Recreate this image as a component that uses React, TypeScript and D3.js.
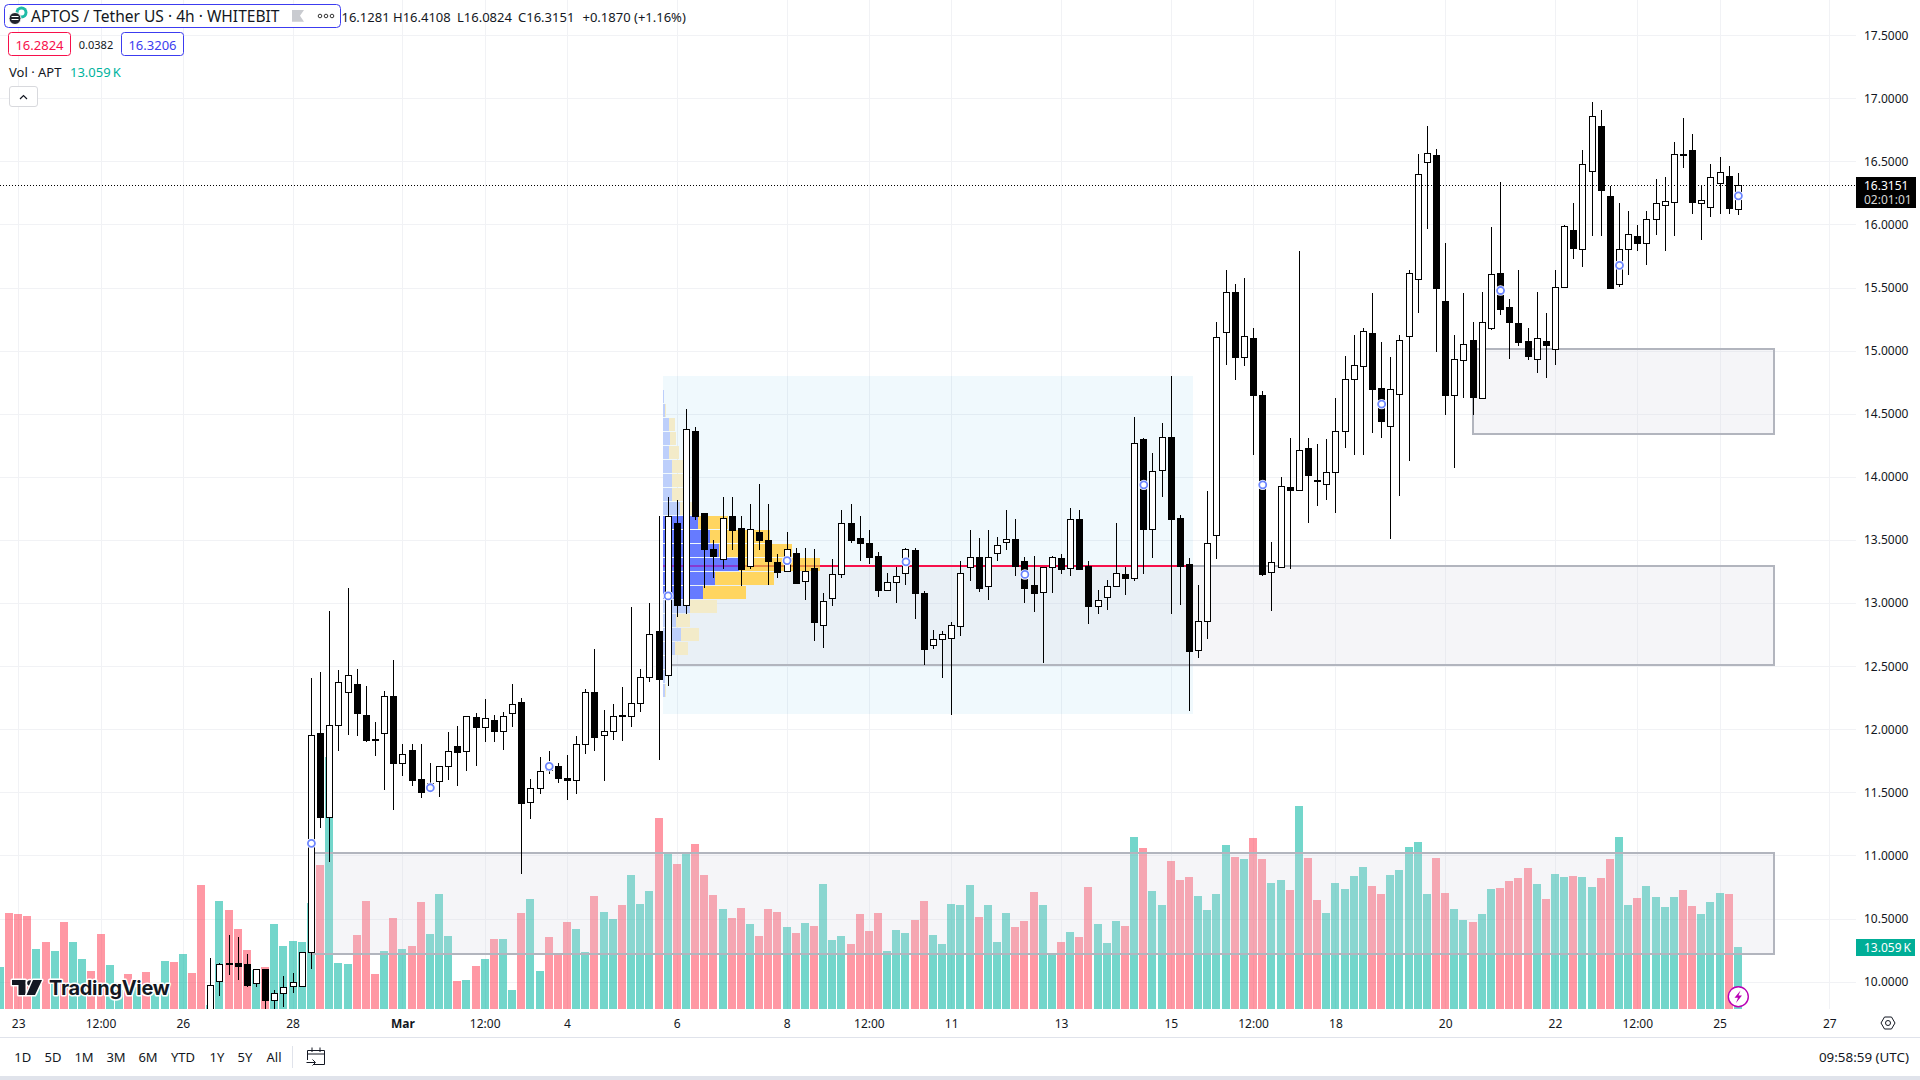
import React from "react";
import * as d3 from "d3";

const FONT = "'Noto Sans', sans-serif";
const INK = "#131722";

// Bar index runs from -2 to 188; index 0 is the "23" tick. One bar = 4h.
const firstVolumeIndex = -2;
const volumes = [
  8.9,20.2,20.0,19.6,12.6,14.1,12.2,18.3,14.1,10.5,8.0,15.8,9.3,4.0,7.4,4.7,7.8,4.7,10.1,9.9,11.6,7.6,26.1,
  0.8,22.7,20.8,16.8,12.4,8.2,8.8,17.9,13.3,14.3,
  14.1,22.3,30.3,53.1,9.7,9.5,15.6,22.7,7.4,12.2,
  19.2,12.6,13.3,22.5,15.8,24.2,15.4,5.9,6.1,9.1,
  10.5,14.7,14.7,4.0,20.2,23.2,8.0,15.2,11.6,18.3,
  16.8,12.0,23.8,20.4,19.0,21.9,28.2,22.1,24.9,40.2,
  32.6,30.5,32.6,34.7,28.2,24.0,21.1,19.2,21.3,17.9,
  15.4,21.1,20.4,17.3,16.0,18.1,17.5,26.3,14.5,15.4,
  13.7,20.0,16.4,20.2,12.2,16.6,16.0,18.7,22.7,15.6,
  13.7,22.1,21.9,26.1,19.4,21.9,14.1,20.2,17.3,18.5,
  24.6,21.9,11.6,14.1,16.2,15.2,25.7,17.9,13.9,18.5,
  17.5,36.2,33.9,24.9,21.9,31.2,27.2,27.8,23.8,20.8,
  24.2,34.5,32.0,31.6,36.0,31.6,26.5,27.2,25.1,42.8,
  31.8,23.0,20.2,26.5,25.3,28.0,29.9,25.9,24.2,28.2,
  29.3,34.1,35.2,24.2,31.8,24.4,21.1,18.7,18.3,20.0,
  25.3,25.5,27.0,27.6,29.7,26.3,23.2,28.4,27.8,28.0,
  27.8,25.7,27.6,31.6,36.2,21.9,23.4,25.9,23.6,21.5,
  23.6,25.1,21.7,20.0,22.5,24.4,24.2,13.059,
];
// direction of the bars that have no candle in view (index -2 to 20)
const earlyVolumeUp = [1,0,0,0,1,0,1,0,1,1,0,0,1,1,0,1,0,1,1,0,1,0,0];

const firstCandleIndex = 21;
const opens = [
  9.7,10.01,10.15,10.15,10.14,9.99,10.10,9.86,9.91,9.97,
  9.97,10.24,11.97,11.31,12.04,12.30,12.36,12.12,11.93,11.97,
  12.27,11.74,11.84,11.61,11.52,11.59,11.71,11.87,11.83,12.10,
  12.02,12.08,11.99,12.13,12.22,11.43,11.54,11.74,11.71,11.62,
  11.60,11.89,12.30,11.96,11.99,12.12,12.11,12.21,12.42,12.78,
  12.43,13.64,12.99,14.37,13.72,13.43,13.35,13.69,13.60,13.30,
  13.57,13.50,13.33,13.26,13.40,13.18,13.28,12.83,13.04,13.23,
  13.64,13.52,13.48,13.38,13.11,13.17,13.24,13.42,13.08,12.67,
  12.72,12.73,12.82,13.29,13.37,13.14,13.40,13.49,13.51,13.34,
  13.15,13.09,13.29,13.36,13.28,13.67,13.30,12.98,13.05,13.14,
  13.23,13.20,14.30,13.59,14.06,14.32,13.68,13.31,12.63,12.86,
  13.54,15.15,15.47,14.95,15.10,14.65,13.25,13.29,13.92,13.90,
  14.23,13.98,13.95,14.04,14.37,14.78,14.88,15.14,14.71,14.41,
  14.66,15.12,15.57,16.50,16.55,15.40,14.65,14.93,15.09,14.63,
  15.18,15.62,15.35,15.22,15.08,14.94,15.08,15.02,15.51,15.96,
  15.81,16.43,16.78,16.23,15.53,15.81,15.91,15.86,16.05,16.16,
  16.18,16.56,16.59,16.17,16.14,16.33,16.39,16.1281,
];
const highs = [
  10.19,10.15,10.37,10.36,10.22,10.10,10.10,9.94,10.05,10.07,
  10.24,12.41,12.46,12.94,12.47,13.12,12.48,12.35,12.06,12.31,
  12.55,11.89,11.89,11.89,11.74,11.71,11.98,12.03,12.11,12.13,
  12.24,12.12,12.14,12.36,12.25,11.61,11.78,11.83,11.74,11.80,
  11.95,12.32,12.64,12.16,12.20,12.34,12.97,12.48,13.00,13.69,
  13.84,13.82,14.54,14.40,13.72,13.50,13.84,13.84,13.69,13.79,
  13.95,13.79,13.39,13.57,13.44,13.44,13.43,13.08,13.35,13.74,
  13.79,13.69,13.58,13.41,13.24,13.29,13.44,13.44,13.10,12.79,
  12.78,12.85,13.34,13.58,13.52,13.58,13.53,13.74,13.67,13.37,
  13.38,13.29,13.38,13.39,13.76,13.74,13.34,13.11,13.19,13.64,
  13.29,14.48,14.31,14.19,14.43,14.80,13.70,13.36,13.15,13.89,
  15.23,15.64,15.53,15.58,15.18,14.68,13.49,14.00,14.31,15.79,
  14.31,14.26,14.30,14.63,14.96,15.13,15.18,15.46,15.07,14.95,
  15.13,15.64,16.56,16.78,16.60,15.86,15.13,15.46,15.23,15.47,
  15.98,16.34,15.41,15.64,15.18,15.47,15.30,15.64,16.00,16.17,
  16.59,16.97,16.91,16.31,16.17,16.11,16.00,16.11,16.36,16.38,
  16.66,16.85,16.72,16.32,16.48,16.54,16.47,16.4108,
];
const lows = [
  9.6,9.89,10.06,10.02,9.96,9.96,9.79,9.78,9.80,9.91,
  9.97,10.10,11.22,10.95,11.83,11.96,11.95,11.90,11.79,11.52,
  11.36,11.63,11.55,11.46,11.51,11.47,11.60,11.55,11.67,11.71,
  11.90,11.90,11.84,12.02,10.86,11.29,11.49,11.65,11.58,11.44,
  11.49,11.81,11.83,11.59,11.92,11.91,12.02,12.14,12.38,11.76,
  12.35,12.89,12.92,13.66,13.12,13.20,13.27,13.42,13.14,13.27,
  13.42,13.15,13.20,13.25,13.16,13.03,12.70,12.65,12.98,13.20,
  13.48,13.34,13.31,13.05,13.11,13.00,13.15,12.88,12.51,12.64,
  12.41,12.12,12.74,13.18,13.09,13.03,13.34,13.42,13.22,13.00,
  12.93,12.53,13.08,13.23,13.22,13.27,12.84,12.92,12.95,13.14,
  13.07,13.18,13.23,13.36,13.84,12.92,12.99,12.15,12.57,12.72,
  13.35,14.89,14.77,14.88,14.18,13.22,12.94,13.28,13.27,13.90,
  13.64,13.77,13.82,13.72,14.23,14.18,14.18,14.35,14.31,13.51,
  13.85,14.13,15.30,15.97,14.99,14.49,14.07,14.63,14.49,14.62,
  15.17,15.29,14.94,15.04,14.93,14.83,14.79,14.89,15.51,15.73,
  15.67,15.91,15.91,15.50,15.51,15.60,15.79,15.68,15.92,15.79,
  15.91,16.45,16.09,15.88,16.06,16.09,16.09,16.0824,
];
const closes = [
  9.98,10.14,10.14,10.13,9.98,10.10,9.86,9.91,9.96,10.00,
  10.24,11.96,11.31,12.04,12.38,12.43,12.13,11.92,11.92,12.27,
  11.74,11.81,11.60,11.51,11.58,11.71,11.83,11.82,12.11,12.02,
  12.09,11.99,12.11,12.20,11.42,11.54,11.67,11.68,11.62,11.60,
  11.89,12.30,11.94,11.99,12.11,12.11,12.21,12.42,12.76,12.40,
  13.69,12.99,14.38,13.69,13.43,13.38,13.68,13.58,13.27,13.59,
  13.50,13.34,13.25,13.43,13.16,13.26,12.85,13.02,13.23,13.64,
  13.50,13.48,13.37,13.11,13.17,13.22,13.43,13.08,12.64,12.72,
  12.76,12.83,13.24,13.37,13.12,13.37,13.46,13.51,13.30,13.12,
  13.08,13.29,13.37,13.27,13.67,13.27,12.98,13.03,13.14,13.24,
  13.20,14.27,13.59,14.05,14.32,13.67,13.30,12.62,12.86,13.48,
  15.11,15.47,14.95,15.12,14.65,13.23,13.33,13.93,13.90,14.22,
  14.02,13.97,14.04,14.37,14.78,14.89,15.16,14.70,14.45,14.70,
  15.09,15.62,16.40,16.57,15.50,14.65,14.94,15.06,14.64,15.23,
  15.61,15.33,15.23,15.07,14.96,15.10,15.05,15.51,15.99,15.82,
  16.48,16.86,16.28,15.50,15.81,15.93,15.86,16.05,16.17,16.19,
  16.56,16.55,16.18,16.20,16.38,16.42,16.13,16.3151,
];

const timeTickIndex = [0,9,18,30,42,51,60,72,84,93,102,114,126,135,144,156,168,177,186,198];
const timeTickLabels = ["23","12:00","26","28","Mar","12:00","4","6","8","12:00","11","13","15","12:00","18","20","22","12:00","25","27"];
const priceTicks = [10,10.5,11,11.5,12,12.5,13,13.5,14,14.5,15,15.5,16,16.5,17,17.5];

const markerIndex = [32,45,58,71,84,97,110,123,136,149,162,175,188];
const markerPrice = [11.10,11.54,11.71,13.06,13.34,13.33,13.23,13.94,13.94,14.58,15.48,15.68,16.23];

const zoneStart = [32,71,159];
const zoneEnd = [191.9,191.9,191.9];
const zoneTop = [11.02,13.30,15.02];
const zoneBottom = [10.22,12.51,14.34];

const rangeStart = 70.45, rangeEnd = 128.4, rangeTop = 14.805, rangeBottom = 12.125;
const pocPrice = 13.30;

// fixed-range volume profile, top row first
const profileTopPrice = 14.69;
const profileRowStep = 0.111;
const profileUp = [1,1.7,6,7,6,9,9,9,17,35,47,56,76,52,40,27,13,18,12,3,1.5,1.5];
const profileDown = [0,1,6,6,10,11,13,13,12,30,60,73,81,59,43,27,14,18,13,2,0.7,1];
const valueAreaFirst = 9, valueAreaLast = 14;

const rangeButtons = ["1D","5D","1M","3M","6M","YTD","1Y","5Y","All"];
const rangeButtonX = [22.7,53,84,116,148,183,217,245,274];

const ohlcLabels = ["16.1281","H16.4108","L16.0824","C16.3151","+0.1870 (+1.16%)"];
const ohlcLabelX = [341.5,393,457,518,582.5];

const x = d3.scaleLinear().domain([0, 186]).range([18.7, 1720.1]);
const y = d3.scaleLinear().domain([10, 17]).range([982.1, 98.7]);
const volY = d3.scaleLinear().domain([0, 13.059]).range([1009, 947]);

const PANE_W = 1856, PANE_H = 1009;
const snap = (v: number) => Math.round(v - 0.5) + 0.5;
const UP_VOL = "#00B5A0", DOWN_VOL = "#FF4459";

const candles = opens.map((o, k) => ({ i: firstCandleIndex + k, o, h: highs[k], l: lows[k], c: closes[k], up: closes[k] >= o }));

function volumeIsUp(i: number) {
  if (i < firstCandleIndex) return earlyVolumeUp[i - firstVolumeIndex] === 1;
  return candles[i - firstCandleIndex].up;
}

export default function App() {
  const lastPrice = closes[closes.length - 1];
  const profileLeft = x(rangeStart);
  return (
    <svg width={1920} height={1080} viewBox="0 0 1920 1080"
      style={{ position: "absolute", left: 0, top: 0, display: "block", background: "#fff", fontFamily: FONT }}>
      <defs>
        <clipPath id="pane"><rect x={0} y={0} width={PANE_W} height={PANE_H} /></clipPath>
      </defs>

      {/* grid */}
      <g stroke="#F1F2F5" strokeWidth={1} shapeRendering="crispEdges">
        {priceTicks.map(p => <line key={p} x1={0} x2={PANE_W} y1={snap(y(p))} y2={snap(y(p))} />)}
        {timeTickIndex.map(i => <line key={i} x1={snap(x(i))} x2={snap(x(i))} y1={0} y2={PANE_H} />)}
      </g>

      <g clipPath="url(#pane)">
        {/* volume */}
        <g shapeRendering="crispEdges">
          {volumes.map((v, k) => {
            const i = firstVolumeIndex + k;
            const top = Math.round(volY(v));
            return <rect key={i} x={Math.round(x(i) - 4.5)} y={top} width={8} height={PANE_H - top}
              fill={volumeIsUp(i) ? UP_VOL : DOWN_VOL} opacity={0.55} />;
          })}
        </g>

        {/* range highlight */}
        <rect x={x(rangeStart)} y={y(rangeTop)} width={x(rangeEnd) - x(rangeStart)} height={y(rangeBottom) - y(rangeTop)}
          fill="rgb(3,155,229)" fillOpacity={0.06} shapeRendering="crispEdges" />

        {/* rectangles */}
        {zoneStart.map((s, k) => (
          <rect key={k} x={x(s)} y={y(zoneTop[k])} width={x(zoneEnd[k]) - x(s)} height={y(zoneBottom[k]) - y(zoneTop[k])}
            fill="rgb(213,213,226)" fillOpacity={0.24} stroke="#B2B5BE" strokeWidth={2} shapeRendering="crispEdges" />
        ))}

        {/* point of control */}
        <line x1={x(rangeStart)} x2={x(rangeEnd)} y1={y(pocPrice)} y2={y(pocPrice)} stroke="#F7104B" strokeWidth={2} shapeRendering="crispEdges" />

        {/* volume profile */}
        <g shapeRendering="crispEdges">
          {profileUp.map((u, k) => {
            const d = profileDown[k];
            const ry = y(profileTopPrice - k * profileRowStep);
            const solid = k >= valueAreaFirst && k <= valueAreaLast;
            return (
              <g key={k}>
                <rect x={profileLeft} y={ry} width={u} height={13} fill={solid ? "#667BFF" : "#BDCFFB"} />
                <rect x={profileLeft + u} y={ry} width={d} height={13} fill={solid ? "#FFD560" : "#F3EBC9"} />
              </g>
            );
          })}
          <line x1={profileLeft} x2={profileLeft + profileUp[12]} y1={y(pocPrice)} y2={y(pocPrice)} stroke="#A010B0" strokeWidth={2} opacity={0.6} />
          <line x1={profileLeft + profileUp[12]} x2={profileLeft + profileUp[12] + profileDown[12]} y1={y(pocPrice)} y2={y(pocPrice)} stroke="#E0703A" strokeWidth={2} opacity={0.7} />
        </g>

        {/* candles */}
        <g shapeRendering="crispEdges">
          {candles.map(d => {
            const cx = snap(x(d.i));
            const top = Math.round(y(Math.max(d.o, d.c)));
            const bot = Math.round(y(Math.min(d.o, d.c)));
            const h = Math.max(1, bot - top + 1);
            return (
              <g key={d.i}>
                <line x1={cx} x2={cx} y1={Math.round(y(d.h))} y2={Math.round(y(d.l))} stroke="#000" strokeWidth={1} />
                <rect x={cx - 3.5} y={top} width={7} height={h} fill="#000" />
                {d.up && h > 2 && <rect x={cx - 2.5} y={top + 1} width={5} height={h - 2} fill="#fff" />}
              </g>
            );
          })}
        </g>
      </g>

      {/* last price line */}
      <line x1={0} x2={PANE_W} y1={snap(y(lastPrice))} y2={snap(y(lastPrice))} stroke="#000" strokeWidth={1} strokeDasharray="1 2" shapeRendering="crispEdges" />

      {/* recurring markers */}
      {markerIndex.map((i, k) => (
        <g key={i}>
          <circle cx={x(i)} cy={y(markerPrice[k])} r={5.2} fill="#fff" />
          <circle cx={x(i)} cy={y(markerPrice[k])} r={3.5} fill="#fff" stroke="#6C86FF" strokeWidth={1.8} />
        </g>
      ))}

      {/* watermark */}
      <g fill={INK} stroke="#fff" strokeWidth={3} paintOrder="stroke" strokeLinejoin="round">
        <path d="M12 980H25.5V995H18.5V985H12Z" />
        <circle cx={30} cy={983} r={2.8} />
        <path d="M33 980H42L35 995H26.5Z" />
        <text x={49} y={995} fontFamily="Inter, sans-serif" fontWeight={700} fontSize={20} letterSpacing={-0.3}>TradingView</text>
      </g>

      {/* price axis */}
      <g fontSize={12} fill={INK} dominantBaseline="central">
        {priceTicks.map(p => <text key={p} x={1864} y={y(p) - 0.6}>{p.toFixed(4)}</text>)}
      </g>
      <rect x={1856} y={177} width={60} height={31} fill="#000" />
      <text x={1864} y={185.5} fontSize={12} fill="#fff" dominantBaseline="central">16.3151</text>
      <text x={1864} y={199.5} fontSize={12} fill="#D8D8D8" dominantBaseline="central">02:01:01</text>
      <rect x={1856} y={939} width={59} height={17} fill="#00AE97" />
      <text x={1864} y={947.5} fontSize={12} fill="#fff" dominantBaseline="central">{"13.059\u2009K"}</text>

      {/* time axis */}
      <g fontSize={12} fill={INK} textAnchor="middle" dominantBaseline="central">
        {timeTickIndex.map((i, k) => (
          <text key={i} x={x(i)} y={1023} fontWeight={timeTickLabels[k] === "Mar" ? 700 : 400}>{timeTickLabels[k]}</text>
        ))}
      </g>
      <g fill="none" stroke={INK} strokeWidth={1}>
        <path d="M1881 1023L1884.5 1017H1891.5L1895 1023L1891.5 1029H1884.5Z" />
        <circle cx={1888} cy={1023} r={2.5} />
      </g>
      <line x1={0} x2={1920} y1={1037.5} y2={1037.5} stroke="#E0E3EB" strokeWidth={1} />
      <rect x={0} y={1076} width={1920} height={4} fill="#E0E3EB" />

      {/* bottom toolbar */}
      <g fontSize={13} fill={INK} textAnchor="middle" dominantBaseline="central">
        {rangeButtons.map((b, k) => <text key={b} x={rangeButtonX[k]} y={1057}>{b}</text>)}
      </g>
      <line x1={292.5} x2={292.5} y1={1046} y2={1068} stroke="#E0E3EB" />
      <g fill="none" stroke={INK} strokeWidth={1}>
        <path d="M307.5 1060V1050.5H324.5V1064.5H313" />
        <path d="M307.5 1054H324.5M312 1047.5V1052M320 1047.5V1052" />
        <path d="M306.5 1062.5H315M312.5 1059.5L315.5 1062.5L312.5 1065.5" />
      </g>
      <text x={1909} y={1057} fontSize={13.4} fill={INK} textAnchor="end" dominantBaseline="central">09:58:59 (UTC)</text>

      {/* zap badge */}
      <circle cx={1738.3} cy={996.7} r={10} fill="#fff" stroke="#B800B5" strokeWidth={1.4} />
      <path d="M1740.5 990.5L1734.5 997.8H1738L1736 1003L1742 995.5H1738.5Z" fill="#B800B5" />

      {/* header */}
      <rect x={4.5} y={4.5} width={336} height={23} rx={4} fill="#fff" stroke="#3C3CF0" strokeWidth={1} />
      <circle cx={21.5} cy={12.5} r={6} fill="#1FBBA6" />
      <circle cx={21.5} cy={12.5} r={3} fill="#fff" />
      <circle cx={15} cy={18.5} r={6} fill="#22242B" stroke="#fff" strokeWidth={1} />
      <rect x={11.5} y={16} width={7} height={1} fill="#fff" />
      <rect x={11.5} y={19} width={7} height={1} fill="#fff" />
      <text x={31} y={16} fontSize={15.55} fill={INK} dominantBaseline="central">APTOS / Tether US · 4h · WHITEBIT</text>
      <path d="M292 10H304L300 15.8L304 21.7H292Z" fill="#C9CBD0" />
      <g fill="none" stroke="#333" strokeWidth={1}>
        <circle cx={320} cy={16} r={1.8} />
        <circle cx={326} cy={16} r={1.8} />
        <circle cx={332} cy={16} r={1.8} />
      </g>
      <g fontSize={13} fill={INK} dominantBaseline="central">
        {ohlcLabels.map((t, k) => <text key={t} x={ohlcLabelX[k]} y={16.5}>{t}</text>)}
      </g>

      <rect x={8.5} y={32.5} width={62} height={23} rx={3} fill="#fff" stroke="#F7104B" />
      <text x={39.5} y={44.5} fontSize={13} fill="#F7104B" textAnchor="middle" dominantBaseline="central">16.2824</text>
      <text x={96} y={44} fontSize={11} fill={INK} textAnchor="middle" dominantBaseline="central">0.0382</text>
      <rect x={121.5} y={32.5} width={62} height={23} rx={3} fill="#fff" stroke="#3C3CF0" />
      <text x={152.5} y={44.5} fontSize={13} fill="#3C3CF0" textAnchor="middle" dominantBaseline="central">16.3206</text>

      <text x={9} y={72} fontSize={13} fill={INK} dominantBaseline="central">Vol · APT</text>
      <text x={70} y={72} fontSize={13} fill="#00B39E" dominantBaseline="central">{"13.059\u2009K"}</text>
      <rect x={9.5} y={86.5} width={28} height={20} rx={2.5} fill="#fff" stroke="#D8D9DD" />
      <path d="M20 99L23.5 95.5L27 99" fill="none" stroke={INK} strokeWidth={1.2} />
    </svg>
  );
}
